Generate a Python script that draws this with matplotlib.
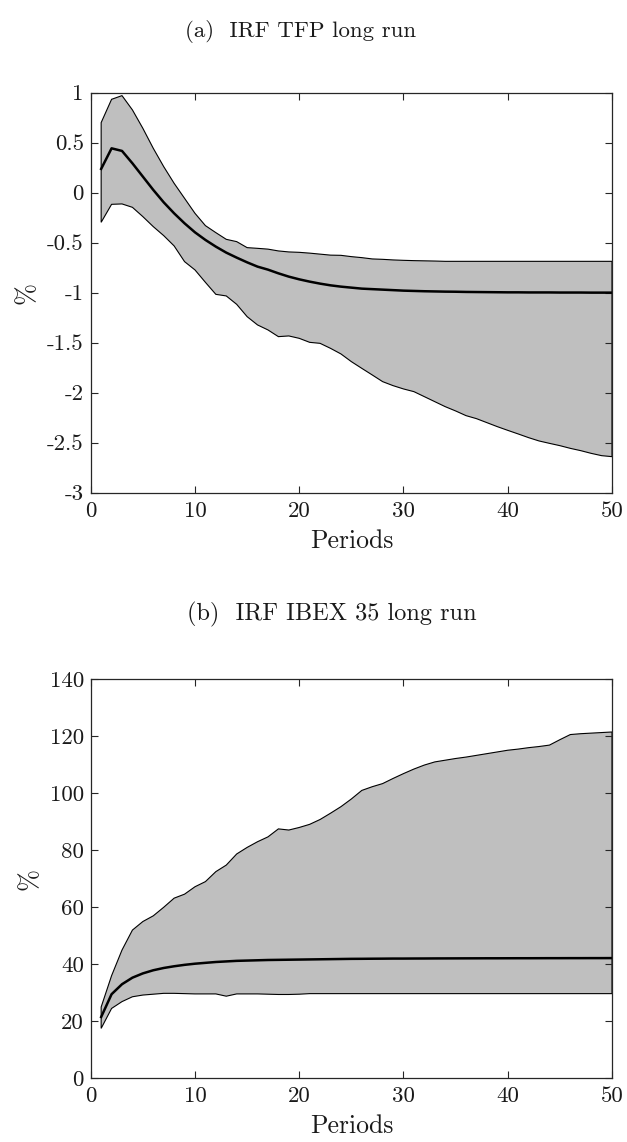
import numpy as np
import matplotlib
matplotlib.use("Agg")
import matplotlib.pyplot as plt

# periods and impulse responses (median and band)
periods = np.arange(1, 51)

tfp_mid = [0.237, 0.443, 0.417, 0.293, 0.16, 0.027, -0.097, -0.207, -0.307, -0.397,
           -0.473, -0.54, -0.60, -0.65, -0.697, -0.74, -0.77, -0.807, -0.84, -0.867,
           -0.89, -0.91, -0.927, -0.94, -0.95, -0.96, -0.965, -0.97, -0.975, -0.98,
           -0.983, -0.986, -0.988, -0.99, -0.991, -0.993, -0.994, -0.995, -0.996, -0.997,
           -0.997, -0.998, -0.998, -0.998, -0.999, -0.999, -0.999, -1.0, -1.0, -1.0]
tfp_up = [0.70, 0.933, 0.97, 0.827, 0.643, 0.443, 0.26, 0.093, -0.057, -0.207,
          -0.33, -0.40, -0.467, -0.49, -0.55, -0.557, -0.565, -0.583, -0.593, -0.597,
          -0.605, -0.615, -0.625, -0.627, -0.64, -0.65, -0.663, -0.667, -0.673, -0.677,
          -0.68, -0.682, -0.684, -0.687, -0.687, -0.687, -0.687, -0.687, -0.687, -0.687,
          -0.687, -0.687, -0.687, -0.687, -0.687, -0.687, -0.687, -0.687, -0.687, -0.687]
tfp_lo = [-0.297, -0.117, -0.113, -0.147, -0.24, -0.34, -0.43, -0.533, -0.69, -0.773,
          -0.897, -1.017, -1.033, -1.117, -1.24, -1.323, -1.373, -1.44, -1.433, -1.457,
          -1.497, -1.507, -1.557, -1.613, -1.69, -1.757, -1.823, -1.89, -1.93, -1.963,
          -1.99, -2.04, -2.09, -2.14, -2.183, -2.23, -2.26, -2.3, -2.34, -2.377,
          -2.413, -2.45, -2.483, -2.507, -2.53, -2.557, -2.58, -2.607, -2.63, -2.64]

ibex_mid = [21.5, 29.5, 33.0, 35.3, 36.8, 37.9, 38.7, 39.3, 39.8, 40.2,
            40.5, 40.8, 41.0, 41.2, 41.3, 41.4, 41.5, 41.55, 41.6, 41.65,
            41.7, 41.75, 41.8, 41.85, 41.9, 41.92, 41.95, 41.97, 42.0, 42.0,
            42.02, 42.03, 42.05, 42.06, 42.07, 42.08, 42.09, 42.1, 42.1, 42.11,
            42.12, 42.12, 42.13, 42.14, 42.14, 42.15, 42.15, 42.16, 42.16, 42.17]
ibex_up = [25.0, 36.0, 45.0, 52.0, 55.0, 57.0, 60.0, 63.2, 64.6, 67.2,
           69.0, 72.5, 74.8, 78.7, 81.0, 83.0, 84.7, 87.5, 87.1, 88.0,
           89.1, 90.8, 93.0, 95.3, 98.0, 101.0, 102.3, 103.4, 105.2, 106.9,
           108.5, 109.9, 111.0, 111.6, 112.2, 112.7, 113.3, 113.9, 114.5, 115.1,
           115.5, 116.0, 116.4, 116.9, 118.8, 120.6, 120.9, 121.1, 121.3, 121.5]
ibex_lo = [17.5, 24.5, 26.9, 28.6, 29.2, 29.5, 29.8, 29.8, 29.7, 29.6,
           29.6, 29.6, 28.8, 29.6, 29.6, 29.6, 29.5, 29.4, 29.4, 29.5] + [29.7] * 30

x_ticks = [0, 10, 20, 30, 40, 50]
tfp_ticks = [-3, -2.5, -2, -1.5, -1, -0.5, 0, 0.5, 1]
tfp_labels = ["-3", "-2.5", "-2", "-1.5", "-1", "-0.5", "0", "0.5", "1"]
ibex_ticks = [0, 20, 40, 60, 80, 100, 120, 140]
ibex_labels = ["0", "20", "40", "60", "80", "100", "120", "140"]

plt.rcParams["font.family"] = "cmr10"
plt.rcParams["mathtext.fontset"] = "cm"
plt.rcParams["axes.formatter.use_mathtext"] = True
plt.rcParams["axes.unicode_minus"] = False

FS = 16.5
AX_COLOR = "#262626"
TXT = "#1a1a1a"


def irf_panel(ax, mid, lo, up, yticks, ylabels, ylim):
    xs = np.r_[periods, periods[::-1]]
    ys = np.r_[lo, up[::-1]]
    ax.fill(xs, ys, facecolor="#bfbfbf", edgecolor="black", linewidth=0.8, zorder=1)
    ax.plot(periods, mid, color="black", linewidth=1.8, zorder=2)
    ax.set_xlim(0, 50)
    ax.set_ylim(*ylim)
    ax.set_xticks(x_ticks)
    ax.set_xticklabels([str(t) for t in x_ticks])
    ax.set_yticks(yticks)
    ax.set_yticklabels(ylabels)
    ax.tick_params(direction="in", length=5, width=0.8, color=AX_COLOR,
                   top=True, right=True, labelsize=FS, labelcolor=TXT)
    ax.tick_params(axis="x", pad=6)
    ax.tick_params(axis="y", pad=5)
    for s in ax.spines.values():
        s.set_color(AX_COLOR)
        s.set_linewidth(0.9)
    ax.set_xlabel("Periods", fontsize=18.5, color=TXT, labelpad=6)
    ax.set_ylabel("%", fontsize=19, color=TXT, labelpad=6)


fig = plt.figure(figsize=(6.27, 11.42), dpi=100)
ax1 = fig.add_axes([0.1447, 0.5686, 0.8314, 0.3503])
ax2 = fig.add_axes([0.1447, 0.0558, 0.8314, 0.3494])

irf_panel(ax1, tfp_mid, tfp_lo, tfp_up, tfp_ticks, tfp_labels, (-3, 1))
irf_panel(ax2, ibex_mid, ibex_lo, ibex_up, ibex_ticks, ibex_labels, (0, 140))

fig.text(0.48, 0.968, "(a)  IRF TFP long run", fontsize=16.5, ha="center", va="baseline",
         color=TXT)
fig.text(0.53, 0.457, "(b)  IRF IBEX 35 long run", fontsize=17.5, ha="center", va="baseline",
         color=TXT)

fig.savefig("out.png", dpi=100)
